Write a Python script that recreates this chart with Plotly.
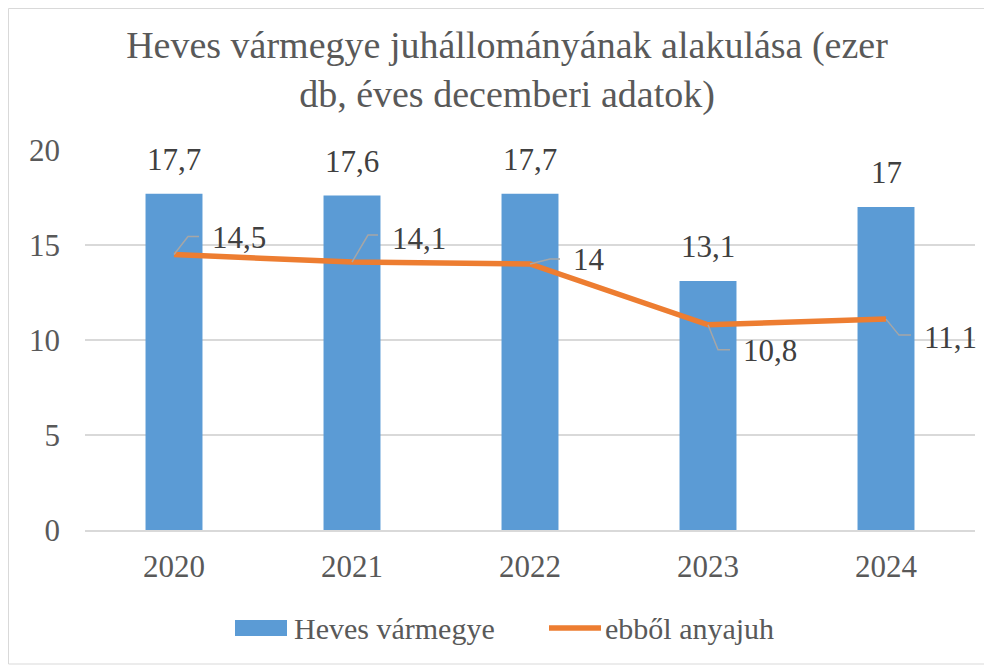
import plotly.graph_objects as go

years = ["2020", "2021", "2022", "2023", "2024"]
heves = [17.7, 17.6, 17.7, 13.1, 17.0]
anyajuh = [14.5, 14.1, 14.0, 10.8, 11.1]
y_ticks = [0, 5, 10, 15, 20]
series_names = ["Heves vármegye", "ebből anyajuh"]
title_text = "Heves vármegye juhállományának alakulása (ezer<br>db, éves decemberi adatok)"

def fmt(v):
    return ("%g" % v).replace(".", ",")

FONT = "Liberation Serif, Times New Roman, serif"
DARK = "#404040"
GREY = "#595959"
BLUE = "#5B9BD5"
ORANGE = "#ED7D31"

OFF = 8  # default page body margin
W, H = 992 - OFF, 665 - OFF
L, R, T, B = 77, 17, 142, 135
pw, ph = W - L - R, H - T - B

def px(x):
    return (x - OFF - L) / pw

def py(y):
    return (H - B - (y - OFF)) / ph

fig = go.Figure()
fig.add_trace(go.Bar(
    x=years, y=heves, name=series_names[0],
    marker=dict(color=BLUE, line=dict(width=0)),
    showlegend=False,
))
fig.add_trace(go.Scatter(
    x=years, y=anyajuh, name=series_names[1], mode="lines",
    line=dict(color=ORANGE, width=5.5), showlegend=False,
))

# bar value labels
for i, v in enumerate(heves):
    fig.add_annotation(
        x=i, y=v, xref="x", yref="y", text=fmt(v), showarrow=False,
        yanchor="bottom", xanchor="center", yshift=15,
        font=dict(family=FONT, size=31, color=DARK),
    )

# line value labels with elbow leader lines (pixel offsets from each point)
label_pos = [(36, 17), (38, 24), (41, 5), (33, -26), (36, -18)]
elbows = [((14, 18), (25, 18)), ((16, 27), (26, 27)), ((20, 5), (30, 5)),
          ((10, -25), (22, -25)), ((13, -16), (25, -16))]
for i, (v, (dx, dy), (e1, e2)) in enumerate(zip(anyajuh, label_pos, elbows)):
    fig.add_shape(
        type="path", xref="x", yref="y", xsizemode="pixel", ysizemode="pixel",
        xanchor=i, yanchor=v,
        path="M0,0 L%d,%d L%d,%d" % (e1[0], e1[1], e2[0], e2[1]),
        line=dict(color="#A6A6A6", width=1.5), layer="above",
    )
    fig.add_annotation(
        x=i, y=v, xref="x", yref="y", text=fmt(v), showarrow=False,
        xanchor="left", yanchor="middle", xshift=dx, yshift=dy,
        font=dict(family=FONT, size=31, color=DARK),
    )

# outer border
fig.add_shape(type="rect", xref="paper", yref="paper",
              x0=px(OFF + 0.5), x1=px(991), y0=py(664), y1=py(OFF + 0.5),
              line=dict(color="#D9D9D9", width=1), layer="below")

# legend (manual, to match long symbol)
fig.add_shape(type="rect", xref="paper", yref="paper",
              x0=px(235), x1=px(287), y0=py(636), y1=py(620),
              fillcolor=BLUE, line=dict(width=0))
fig.add_annotation(xref="paper", yref="paper", x=px(292), y=py(628),
                   text=series_names[0], showarrow=False, xanchor="left", yanchor="middle",
                   font=dict(family=FONT, size=30, color=GREY))
fig.add_shape(type="line", xref="paper", yref="paper",
              x0=px(549), x1=px(601), y0=py(628), y1=py(628),
              line=dict(color=ORANGE, width=5.5))
fig.add_annotation(xref="paper", yref="paper", x=px(603), y=py(628),
                   text=series_names[1], showarrow=False, xanchor="left", yanchor="middle",
                   font=dict(family=FONT, size=30, color=GREY))

fig.update_layout(
    width=W, height=H,
    margin=dict(l=L, r=R, t=T, b=B),
    paper_bgcolor="white", plot_bgcolor="white",
    font=dict(family=FONT, color=GREY, size=31),
    title=dict(text=title_text,
               x=(507 - OFF) / W, xanchor="center", xref="container",
               y=1 - 50 / H, yanchor="top", yref="container",
               font=dict(family=FONT, size=38, color=GREY)),
    showlegend=False,
    bargap=0.68,
)
fig.update_yaxes(range=[0, 20], tickvals=y_ticks, showgrid=True, gridcolor="#D9D9D9",
                 gridwidth=1.5, zeroline=False, showline=False, ticks="",
                 tickfont=dict(family=FONT, size=31, color=GREY), ticklabelstandoff=24)
fig.update_xaxes(type="category", categoryorder="array", categoryarray=years,
                 range=[-0.5, len(years) - 0.5], autorange=False,
                 showline=True, linecolor="#D9D9D9", linewidth=1.5, ticks="",
                 tickfont=dict(family=FONT, size=31, color=GREY), ticklabelstandoff=8)

fig.write_html("out.html")
